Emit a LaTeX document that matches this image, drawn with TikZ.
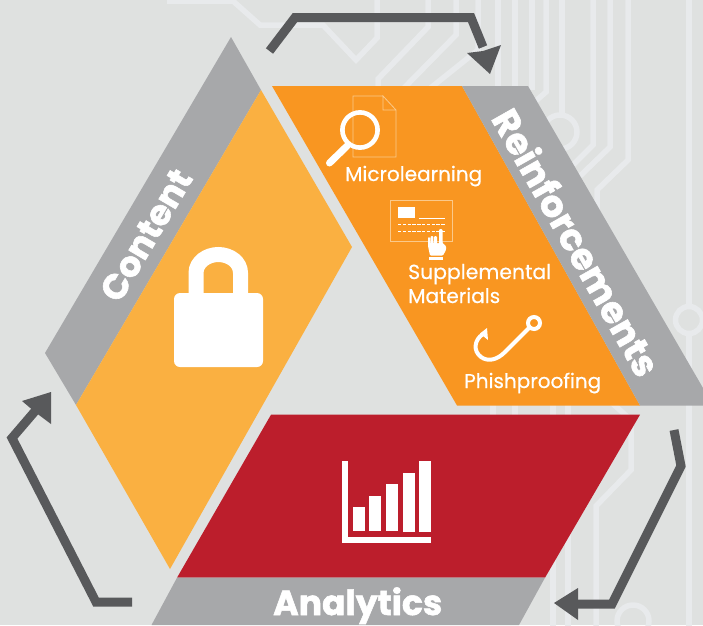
\documentclass[tikz,border=0pt]{standalone}
\usepackage{fontspec}
\usepackage{graphicx}
\setmainfont{Poppins}
\newfontfamily\labelfont[FakeBold=0.5]{Poppins}
\newfontfamily\heavyfont[FakeBold=1.6]{Poppins Bold}
\definecolor{bgc}{HTML}{DFE1E0}
\definecolor{tracec}{HTML}{E8EAEC}
\definecolor{bandc}{HTML}{A7A8AA}
\definecolor{yellowc}{HTML}{FAB041}
\definecolor{orangec}{HTML}{F99621}
\definecolor{redc}{HTML}{BC1E2C}
\definecolor{arrowc}{HTML}{58595B}
\definecolor{thinc}{HTML}{FBC98A}
\tikzset{
  trace/.style={draw=tracec,line width=5.5pt,miter limit=10},
  flowline/.style={draw=arrowc,line width=9pt,line join=miter},
  flowhead/.style={fill=arrowc},
  iconline/.style={draw=thinc,line width=0.8pt},
  whiteline/.style={draw=white,line width=1pt},
  label/.style={text=white,inner sep=0pt,anchor=base west,font=\labelfont},
  bandlabel/.style={text=white,inner sep=0pt,font=\heavyfont}
}
\begin{document}
\begin{tikzpicture}[x=1pt,y=-1pt]
\useasboundingbox (0,0) rectangle (703,625);
\fill[bgc] (0,0) rectangle (703,625);
% background circuit traces
\draw[trace] (167,1) -- (233,1) -- (260,25) -- (323,25) -- (356,60) -- (377,38) -- (377,-5);
\draw[trace] (428,-5) -- (428,27) -- (378,79) -- (378,90);
\draw[trace] (456,-5) -- (456,35) -- (402,90);
\draw[trace] (478,-5) -- (478,50) -- (428,90);
\draw[trace] (498,-5) -- (498,90);
\draw[trace] (515,-5) -- (515,90);
\draw[trace] (532,-5) -- (532,90);
\draw[trace] (546,-5) -- (546,92) -- (530,106);
\draw[trace] (562,-5) -- (562,115);
\draw[trace] (560,132) circle[radius=17];
\draw[trace] (593,-5) -- (593,145) -- (568,170);
\draw[trace] (610,-5) -- (610,147) -- (578,178);
\draw[trace] (628,-5) -- (628,160) -- (597,190) -- (597,215);
\draw[trace] (689,-5) -- (689,306);
\draw[trace] (689,320) circle[radius=13.5];
\draw[trace] (689,334) -- (689,630);
\draw[trace] (493,400) -- (493,420);
\draw[trace] (515,400) -- (515,420);
\draw[trace] (553,400) -- (553,630);
\draw[trace] (568,400) -- (568,630);
\draw[trace] (612,403) -- (631,420) -- (631,470) -- (596,506) -- (596,630);
\draw[trace] (633,621) circle[radius=16];
% Content band and panel
\fill[bandc] (231,37) -- (45,353) -- (76,405) -- (261,90) -- cycle;
\fill[yellowc] (261,90) -- (352,247) -- (170,569) -- (76,405) -- cycle;
% Reinforcements band and panel
\fill[orangec] (272,86) -- (462,86) -- (640,405.5) -- (457,405.5) -- cycle;
\fill[bandc] (462,86) -- (528,86) -- (703,388) -- (703,405.5) -- (640,405.5) -- cycle;
% Analytics band and panel
\fill[redc] (271,414.7) -- (640,414.7) -- (545,577.7) -- (177,577.7) -- cycle;
\fill[bandc] (177,577.7) -- (545,577.7) -- (519,625) -- (151.5,625) -- cycle;
% flow arrows
\coordinate (ta) at (269.5,51);
\coordinate (tb) at (295,17.5);
\coordinate (tc) at (471,17.5);
\coordinate (td) at (483,47);
\draw[flowline] (ta) -- (tb) -- (tc) -- (td);
\fill[flowhead] (467,53) -- (490,74) -- (501,45) -- (483,51) -- cycle;
\coordinate (ra) at (674,430);
\coordinate (rb) at (681,466);
\coordinate (rc) at (612,604);
\coordinate (rd) at (575,604);
\draw[flowline] (ra) -- (rb) -- (rc) -- (rd);
\fill[flowhead] (554,603) -- (578,588) -- (578,620) -- cycle;
\coordinate (la) at (132,602);
\coordinate (lb) at (96,602);
\coordinate (lc) at (12,438);
\coordinate (ld) at (36,410);
\draw[flowline] (la) -- (lb) -- (lc) -- (ld);
\fill[flowhead] (51,392) -- (22,401) -- (35,412) -- (51,424) -- cycle;
% lock icon
\fill[white,rounded corners=6pt] (174,293) rectangle (263,367);
\draw[white,line width=15pt] (196,296) -- (196,273) .. controls (196,262) and (207,254.5) .. (218.2,254.5) .. controls (230,254.5) and (240.5,262) .. (240.5,273) -- (240.5,296);
% document + magnifier icon
\draw[iconline] (383,96) -- (353,96) -- (353,157) -- (396,157) -- (396,110) -- (383,96) -- (383,110) -- (396,110);
\draw[white,line width=4.6pt] (360,130) circle[radius=17.6];
\draw[white,line width=7pt,line cap=round] (347,146) -- (329.5,163);
% form + pointing hand icon
\draw[iconline] (390.5,200.5) rectangle (452,241);
\fill[white] (398,207) rectangle (415,218);
\draw[whiteline,line width=0.7pt] (419,218.5) -- (445,218.5);
\draw[whiteline,line width=0.6pt,dash pattern=on 3.4pt off 1.4pt] (398,224.7) -- (445,224.7);
\draw[whiteline,line width=0.6pt,dash pattern=on 3.4pt off 1.4pt] (398,231.2) -- (445,231.2);
\fill[white,rounded corners=1pt] (439,229) -- (442.5,229) -- (442.5,243) -- (446,246) -- (446,250) -- (443,255.5) -- (430,255.5) -- (428,246) -- (428,237) -- (430,237) -- (430,243.5) -- (430.6,243.5) -- (430.6,236) -- (433.4,236) -- (433.4,243.5) -- (434,243.5) -- (434,236) -- (437,236) -- (437,243.5) -- (439,243.5) -- cycle;
\fill[white] (429,257) rectangle (443,260);
% hook icon
\draw[white,line width=4pt] (534,323) circle[radius=6];
\draw[white,line width=4pt,line cap=round,line join=round] (529,328) -- (505,352) .. controls (497,360) and (488,362) .. (481,357) .. controls (473,351) and (474,340) .. (483,334);
\fill[white] (480,333.5) -- (487,328) -- (488,340) -- cycle;
% bar chart icon
\fill[white] (342,461) rectangle (348,543);
\fill[white] (342,537) rectangle (431,543);
\fill[white] (353,507) rectangle (365,531);
\fill[white] (369,496) rectangle (381,531);
\fill[white] (386,484) rectangle (398,531);
\fill[white] (403,473) rectangle (415,532);
\fill[white] (419,461) rectangle (431,532);
% labels
\node[label] (micro) at (345,181) {\resizebox{137pt}{!}{Microlearning}};
\node[label] (supp) at (408,279) {\resizebox{143pt}{!}{Supplemental}};
\node[label] (mats) at (408,303) {\resizebox{92pt}{!}{Materials}};
\node[label] (phish) at (464,388) {\resizebox{137pt}{!}{Phishproofing}};
\node[bandlabel,rotate=59.5] (content) at (146,235) {\resizebox{146pt}{!}{Content}};
\node[bandlabel,rotate=-60.5] (reinf) at (577,242) {\resizebox{300pt}{!}{Reinforcements}};
\node[label,font=\heavyfont] (analytics) at (273,615) {\resizebox{169pt}{!}{Analytics}};
\end{tikzpicture}
\end{document}
